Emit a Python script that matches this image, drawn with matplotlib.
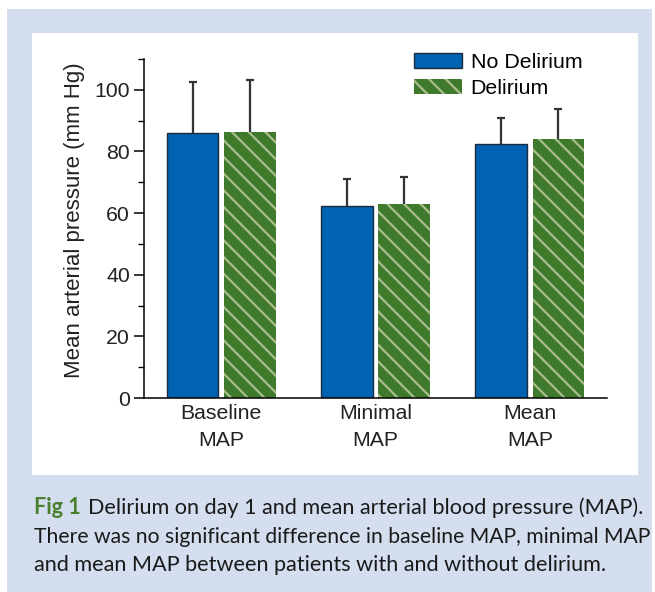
import matplotlib

matplotlib.use("Agg")
import matplotlib.pyplot as plt  # noqa: E402
import numpy as np  # noqa: E402
from matplotlib.patches import Rectangle  # noqa: E402
from matplotlib.ticker import MultipleLocator  # noqa: E402

categories = ["Baseline\nMAP", "Minimal\nMAP", "Mean\nMAP"]
no_delirium = [86.0, 62.3, 82.5]
no_delirium_sd = [16.6, 8.8, 8.4]
delirium = [86.4, 63.0, 84.1]
delirium_sd = [16.8, 8.8, 9.7]
series_labels = ["No Delirium", "Delirium"]

W, H = 655, 592
BLUE = "#0062b0"
GREEN = "#3f7a2c"
STRIPE = "#a9bd8e"
PANEL = "#d5deef"

plt.rcParams["font.family"] = ["Liberation Sans", "DejaVu Sans"]
plt.rcParams["hatch.linewidth"] = 1.6
plt.rcParams["hatch.color"] = STRIPE

fig = plt.figure(figsize=(W / 100, H / 100), dpi=100)
fig.patch.set_facecolor("white")


def px_rect(x0, y0, x1, y1, color):
    # rectangle given in image pixels (origin top-left)
    fig.patches.append(Rectangle((x0 / W, 1 - y1 / H), (x1 - x0) / W, (y1 - y0) / H,
                                 transform=fig.transFigure, facecolor=color,
                                 edgecolor="none", zorder=-10))


px_rect(7, 9, 652, H, PANEL)
px_rect(32, 33, 638, 475, "white")

ax = fig.add_axes([144 / W, 1 - 398 / H, (607 - 144) / W, (398 - 59) / H])
x = np.arange(len(categories))
width = 0.335
offset = 0.185

ax.bar(x - offset, no_delirium, width, color=BLUE, edgecolor="#1c2b3f", linewidth=1.0,
       label=series_labels[0], zorder=2)
ax.bar(x + offset, delirium, width, color=GREEN, edgecolor=STRIPE, linewidth=0, hatch="\\\\",
       label=series_labels[1], zorder=2)

err_style = dict(fmt="none", ecolor="#333333", elinewidth=1.6, capsize=3.2, capthick=1.6, zorder=1)
for pos, vals, sd in ((x - offset, no_delirium, no_delirium_sd), (x + offset, delirium, delirium_sd)):
    eb = ax.errorbar(pos, vals, yerr=[np.zeros(len(vals)), sd], **err_style)
    eb[1][0].set_visible(False)  # only the upper cap

ax.set_xlim(-0.5, 2.5)
ax.set_ylim(0, 110)
ax.yaxis.set_major_locator(MultipleLocator(20))
ax.yaxis.set_minor_locator(MultipleLocator(10))
ax.set_xticks(x)
ax.set_xticklabels(categories, fontsize=15.3, color="#222222", linespacing=1.55)
ax.tick_params(axis="x", length=0, pad=4)
ax.tick_params(axis="y", which="major", length=7, width=1.1, labelsize=15.3, labelcolor="#222222", pad=3)
ax.tick_params(axis="y", which="minor", length=4, width=1.0)
ax.set_ylabel("Mean arterial pressure (mm Hg)", fontsize=16, color="#222222")
ax.yaxis.set_label_coords(-0.127, 0.525)
for side in ("top", "right"):
    ax.spines[side].set_visible(False)
for side in ("left", "bottom"):
    ax.spines[side].set_linewidth(1.1)
ax.set_facecolor("none")

leg = ax.legend(loc="upper left", bbox_to_anchor=(414 / W, 1 - 53 / H), bbox_transform=fig.transFigure,
                frameon=False, fontsize=15.4, handlelength=2.25, handleheight=0.72,
                handletextpad=0.4, labelspacing=0.3, borderaxespad=0, borderpad=0)

cap_font = ["Lato", "DejaVu Sans"]
fs = 15.2
fig.text(34 / W, 1 - 508 / H, "Fig 1", fontsize=15.6, fontweight="bold", color="#4a7f2e",
         family=cap_font, va="center", ha="left")
fig.text(88 / W, 1 - 508 / H, "Delirium on day 1 and mean arterial blood pressure (MAP).",
         fontsize=15.6, color="#1a1a1a", family=cap_font, va="center", ha="left")
fig.text(34 / W, 1 - 537 / H, "There was no significant difference in baseline MAP, minimal MAP",
         fontsize=fs, color="#1a1a1a", family=cap_font, va="center", ha="left")
fig.text(34 / W, 1 - 565 / H, "and mean MAP between patients with and without delirium.",
         fontsize=15.6, color="#1a1a1a", family=cap_font, va="center", ha="left")

fig.savefig("out.png", dpi=100)
